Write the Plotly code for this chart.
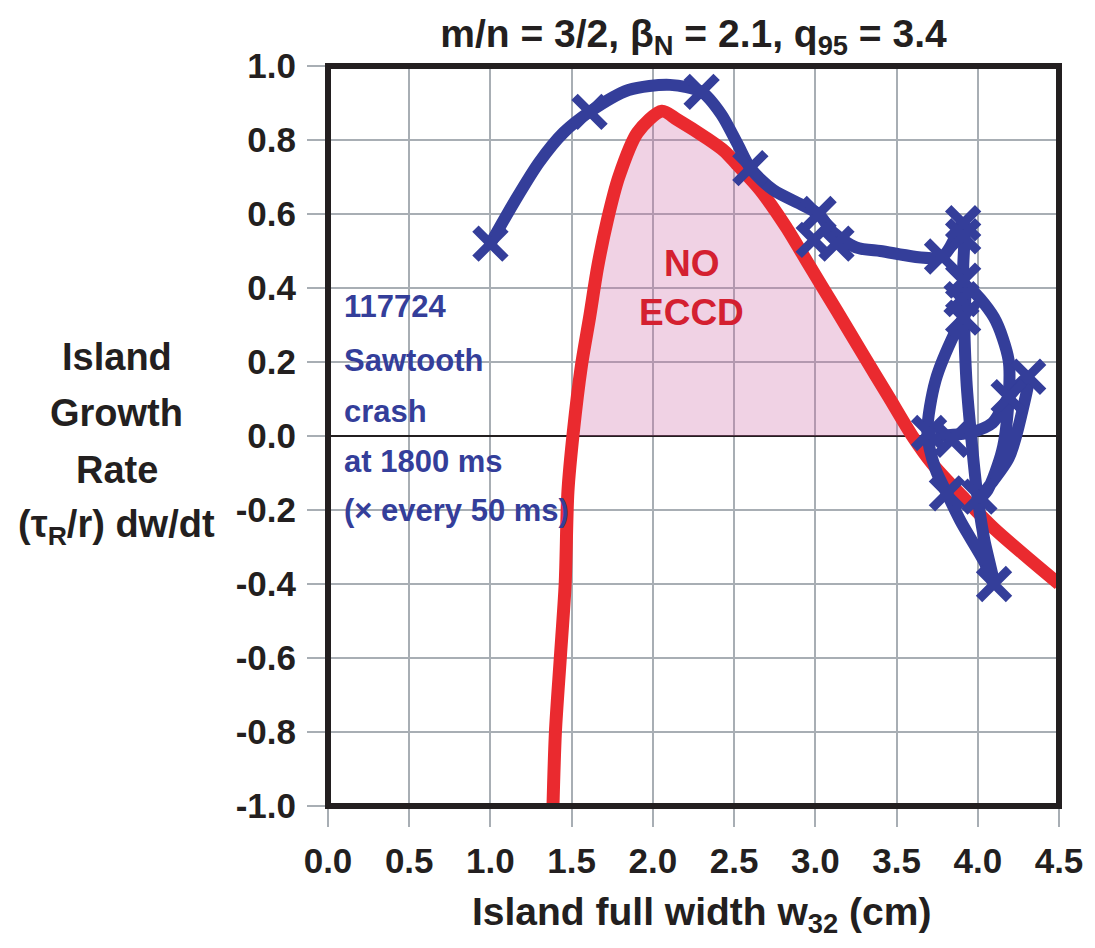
import numpy as np
import plotly.graph_objects as go

# Island growth rate model curve without ECCD (red)
model_w = [1.385, 1.40, 1.43, 1.46, 1.477, 1.51, 1.56, 1.61, 1.66, 1.72, 1.79, 1.905,
           2.056, 2.15, 2.33, 2.44, 2.515, 2.66, 2.82, 2.96, 3.13, 3.29, 3.45, 3.60,
           3.72, 3.92, 4.10, 4.31, 4.50]
model_g = [-1.0, -0.80, -0.60, -0.40, -0.15, 0.01, 0.19, 0.32, 0.457, 0.584, 0.70, 0.82,
           0.878, 0.855, 0.805, 0.77, 0.735, 0.665, 0.565, 0.463, 0.340, 0.223, 0.107, -0.002,
           -0.075, -0.170, -0.250, -0.330, -0.400]

# Shot 117724 trajectory after the sawtooth crash (blue)
traj_w = [1.00, 1.15, 1.30, 1.45, 1.61, 1.85, 2.105, 2.30, 2.42, 2.52, 2.60, 2.74, 2.94, 3.02,
          3.11, 3.25, 3.40, 3.78, 3.91, 3.91, 3.91, 3.86, 3.74, 3.69, 3.74, 3.81, 3.90,
          4.04, 4.10, 4.04, 4.00, 3.97, 3.93, 3.92, 3.94, 4.10, 4.19, 4.19, 4.15, 4.06,
          4.01, 4.19, 4.27, 4.31, 4.19, 4.09, 3.96, 3.74]
traj_g = [0.52, 0.635, 0.74, 0.82, 0.876, 0.935, 0.949, 0.93, 0.87, 0.79, 0.724, 0.665, 0.62, 0.60,
          0.55, 0.51, 0.50, 0.485, 0.575, 0.45, 0.32, 0.28, 0.15, 0.01, -0.09, -0.155, -0.235,
          -0.34, -0.40, -0.28, -0.17, -0.05, 0.15, 0.35, 0.40, 0.32, 0.205, 0.10, -0.04, -0.146,
          -0.17, -0.06, 0.06, 0.16, 0.105, 0.035, 0.01, 0.0]

# Samples taken every 50 ms
sample_w = [1.00, 1.61, 2.30, 2.60, 3.02, 2.99, 3.13, 3.78, 3.91, 3.91, 3.91, 3.90, 3.91,
            4.31, 4.19, 3.70, 3.84, 3.81, 4.01, 4.10]
sample_g = [0.52, 0.876, 0.93, 0.724, 0.60, 0.53, 0.52, 0.485, 0.575, 0.54, 0.42, 0.37, 0.32,
            0.16, 0.105, 0.008, -0.01, -0.155, -0.164, -0.40]

x_ticks = [0.0, 0.5, 1.0, 1.5, 2.0, 2.5, 3.0, 3.5, 4.0, 4.5]
y_ticks = [1.0, 0.8, 0.6, 0.4, 0.2, 0.0, -0.2, -0.4, -0.6, -0.8, -1.0]

FONT = "Liberation Sans, Arial, sans-serif"
INK = "#231f20"
BLUE = "#343e9a"
RED = "#ea2a2f"
GRID = "#a8aeb4"

fig = go.Figure()

# shaded region where the island grows without ECCD
fig.add_trace(go.Scatter(
    x=model_w, y=np.maximum(np.array(model_g), 0.0),
    mode="lines", line=dict(width=0, shape="spline", smoothing=0.8),
    fill="tozeroy", fillcolor="rgba(205,105,165,0.30)",
    hoverinfo="skip", showlegend=False))

fig.add_trace(go.Scatter(
    x=model_w, y=model_g, mode="lines",
    line=dict(color=RED, width=13, shape="spline", smoothing=0.8),
    showlegend=False))

fig.add_trace(go.Scatter(
    x=traj_w, y=traj_g, mode="lines",
    line=dict(color=BLUE, width=12, shape="spline", smoothing=0.8),
    showlegend=False))

fig.add_trace(go.Scatter(
    x=sample_w, y=sample_g, mode="markers",
    marker=dict(symbol="x-thin", size=30, line=dict(color=BLUE, width=9)),
    showlegend=False))

axis_common = dict(
    showgrid=True, gridcolor=GRID, gridwidth=2,
    ticks="outside", ticklen=20, tickwidth=2, tickcolor=GRID,
    showline=False, tickfont=dict(family=FONT, size=35, color=INK, weight="bold"),
)

fig.update_xaxes(range=[0, 4.5], tickvals=x_ticks,
                 ticktext=[f"{v:.1f}" for v in x_ticks],
                 zeroline=False, ticklabelstandoff=4, **axis_common)
fig.update_yaxes(range=[-1.0, 1.0], tickvals=y_ticks,
                 ticktext=[f"{v:.1f}" for v in y_ticks],
                 zeroline=True, zerolinecolor=INK, zerolinewidth=1.5,
                 ticklabelstandoff=4, **axis_common)

annotations = []
# y-axis title lines
for text, yv in [("Island", 0.2135), ("Growth", 0.062), ("Rate", -0.092),
                 ("(τ<sub>R</sub>/r) dw/dt", -0.246)]:
    annotations.append(dict(xref="paper", yref="y", x=-0.289, y=yv, text=text,
                            showarrow=False, xanchor="center", yanchor="middle",
                            font=dict(family=FONT, size=38, color=INK, weight="bold")))
# x-axis title
annotations.append(dict(xref="paper", yref="paper", x=0.5115, y=-0.147,
                        text="Island full width w<sub>32</sub> (cm)",
                        showarrow=False, xanchor="center", yanchor="middle",
                        font=dict(family=FONT, size=39, color=INK, weight="bold")))
# shot description
for text, yv in [("117724", 0.35), ("Sawtooth", 0.205), ("crash", 0.067),
                 ("at 1800 ms", -0.068), ("(× every 50 ms)", -0.2)]:
    annotations.append(dict(xref="paper", yref="y", x=0.0198, y=yv, text=text,
                            showarrow=False, xanchor="left", yanchor="middle",
                            font=dict(family=FONT, size=31, color=BLUE, weight="bold")))
# region label
for text, yv in [("NO", 0.465), ("ECCD", 0.335)]:
    annotations.append(dict(xref="x", yref="y", x=2.24, y=yv, text=text,
                            showarrow=False, xanchor="center", yanchor="middle",
                            font=dict(family=FONT, size=37, color="#d42030", weight="bold")))

fig.update_layout(
    width=1095, height=948,
    margin=dict(l=328, r=30, t=66, b=142),
    paper_bgcolor="white", plot_bgcolor="white",
    title=dict(text="m/n = 3/2, β<sub>N</sub> = 2.1, q<sub>95</sub> = 3.4",
               x=0.5, xref="paper", y=1 - 33 / 948, yref="container",
               xanchor="center", yanchor="middle",
               font=dict(family=FONT, size=39, color=INK, weight="bold")),
    annotations=annotations,
    shapes=[dict(type="rect", xref="paper", yref="paper", x0=0, x1=1, y0=0, y1=1,
                 line=dict(color=INK, width=6), layer="above")],
    showlegend=False,
)

fig.write_html("out.html")
